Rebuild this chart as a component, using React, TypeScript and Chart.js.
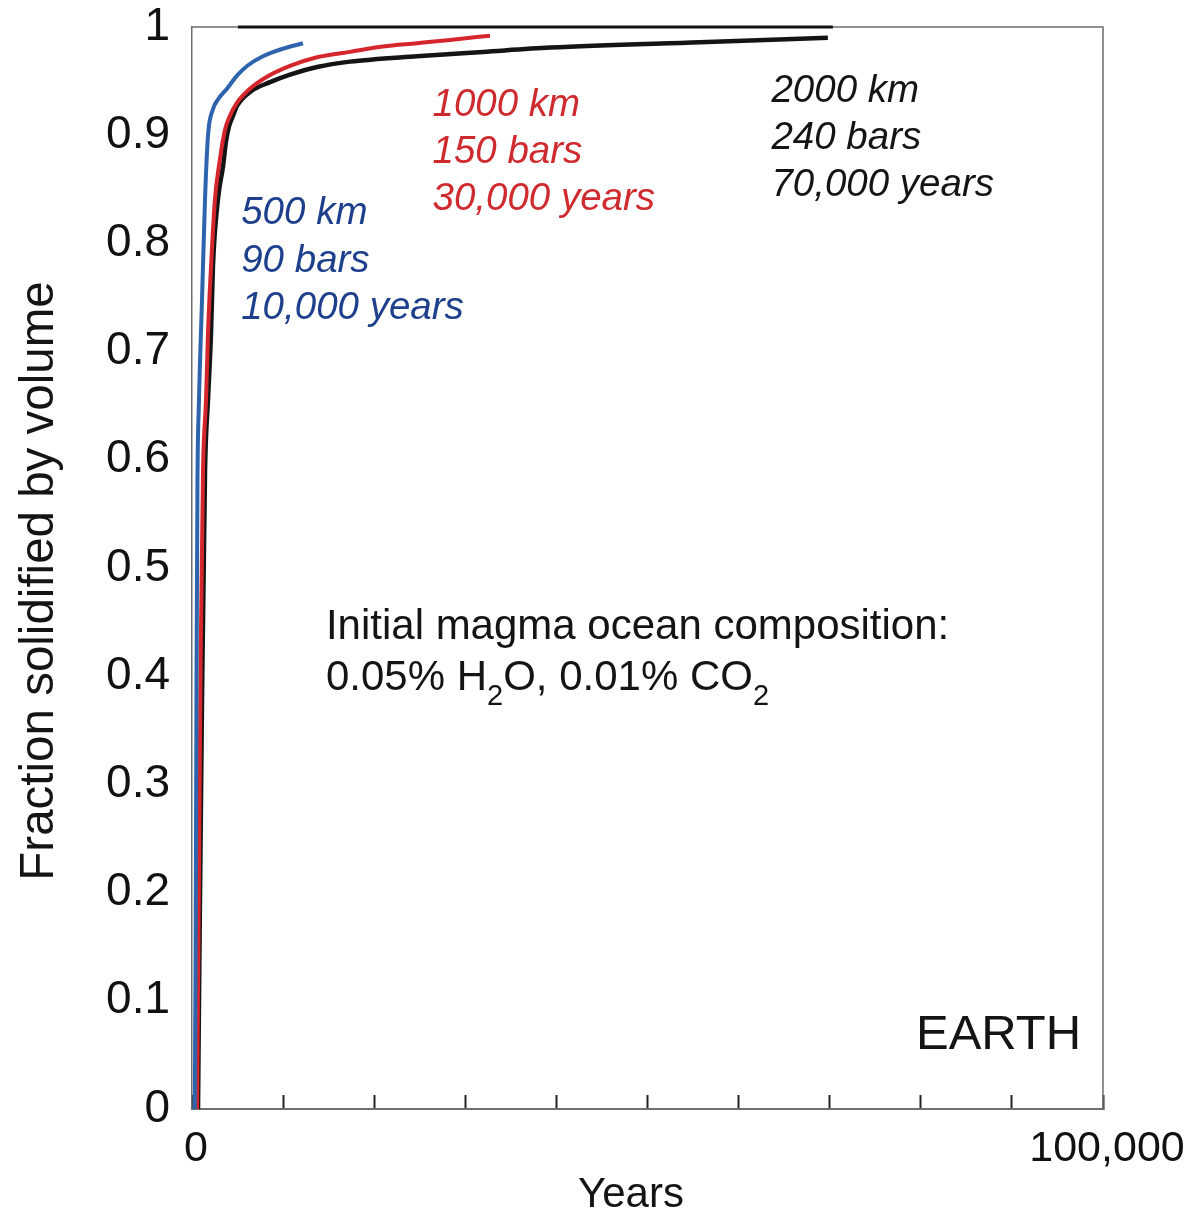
import React, { useEffect, useRef } from 'react';
import { Chart, registerables } from 'chart.js';

Chart.register(...registerables);

// ---- data (years, fraction solidified) ----
const blueYears = [300, 400, 500, 600, 750, 1100, 1430, 1760, 2300, 2850, 3840, 4940, 6040, 7790, 9990, 12180];
const blueFraction = [0, 0.15, 0.4, 0.58, 0.65, 0.748, 0.841, 0.9, 0.924, 0.933, 0.943, 0.955, 0.964, 0.973, 0.98, 0.985];

const redYears = [550, 750, 950, 1210, 1540, 1760, 2090, 2520, 3070, 3620, 4170, 4940, 6370, 8230, 10760, 13720, 17340, 20970, 24700, 28320, 32710];
const redFraction = [0, 0.2, 0.42, 0.59, 0.656, 0.718, 0.779, 0.841, 0.878, 0.905, 0.918, 0.93, 0.943, 0.954, 0.964, 0.972, 0.977, 0.982, 0.985, 0.988, 0.992];

const blackYears = [660, 820, 1100, 1430, 1760, 2090, 2300, 2850, 3400, 3730, 4060, 4500, 4940, 6370, 8560, 10760, 13720, 17340, 24700, 31940, 39300, 55760, 69800];
const blackFraction = [0, 0.147, 0.378, 0.59, 0.656, 0.718, 0.779, 0.841, 0.871, 0.894, 0.908, 0.918, 0.927, 0.94, 0.949, 0.956, 0.963, 0.968, 0.973, 0.977, 0.981, 0.986, 0.99];

const topLineYears = [5050, 70350];
const topLineFraction = [1, 1];

const xTickLabels = ['0', '', '', '', '', '', '', '', '', '', '100,000'];
const yTickLabels = ['0', '0.1', '0.2', '0.3', '0.4', '0.5', '0.6', '0.7', '0.8', '0.9', '1'];

const blueLabel = ['500 km', '90 bars', '10,000 years'];
const redLabel = ['1000 km', '150 bars', '30,000 years'];
const blackLabel = ['2000 km', '240 bars', '70,000 years'];

// ---- styles / placements ----
const FONT = '"Liberation Sans", Arial, Helvetica, sans-serif';
const BLUE_LINE = '#2d64ad';
const BLUE_TEXT = '#1d3f8c';
const RED_LINE = '#d5262d';
const RED_TEXT = '#cf2a2e';
const BLACK = '#141414';

const labelBlocks = [
  { lines: blueLabel, x: 5400, y: [0.818, 0.774, 0.73], color: BLUE_TEXT },
  { lines: redLabel, x: 26400, y: [0.918, 0.874, 0.831], color: RED_TEXT },
  { lines: blackLabel, x: 63600, y: [0.931, 0.887, 0.844], color: BLACK },
];

const pts = (xs: number[], ys: number[]) => xs.map((x, i) => ({ x, y: ys[i] }));

const annotationPlugin = {
  id: 'annotations',
  beforeDatasetsDraw(chart: any) {
    const { ctx, chartArea } = chart;
    ctx.save();
    ctx.strokeStyle = '#6e6e6e';
    ctx.lineWidth = 1.5;
    ctx.beginPath();
    ctx.moveTo(chartArea.left, chartArea.top);
    ctx.lineTo(chartArea.right, chartArea.top);
    ctx.lineTo(chartArea.right, chartArea.bottom);
    ctx.stroke();
    ctx.restore();
  },
  afterDatasetsDraw(chart: any) {
    const { ctx } = chart;
    const xs = chart.scales.x;
    const ys = chart.scales.y;
    ctx.save();
    ctx.textAlign = 'left';
    ctx.textBaseline = 'alphabetic';
    ctx.font = `italic 38.5px ${FONT}`;
    for (const b of labelBlocks) {
      ctx.fillStyle = b.color;
      b.lines.forEach((t, i) => {
        ctx.fillText(t, xs.getPixelForValue(b.x), ys.getPixelForValue(b.y[i]));
      });
    }

    // composition text
    ctx.fillStyle = BLACK;
    ctx.font = `42px ${FONT}`;
    const cx = xs.getPixelForValue(14700);
    ctx.fillText('Initial magma ocean composition:', cx, ys.getPixelForValue(0.4345));
    const y2 = ys.getPixelForValue(0.3875);
    const parts: [string, boolean][] = [
      ['0.05% H', false], ['2', true], ['O, 0.01% CO', false], ['2', true],
    ];
    let px = cx;
    for (const [t, sub] of parts) {
      ctx.font = sub ? `29px ${FONT}` : `42px ${FONT}`;
      ctx.fillText(t, px, sub ? y2 + 15 : y2);
      px += ctx.measureText(t).width;
    }

    // EARTH
    ctx.font = `49px ${FONT}`;
    ctx.textAlign = 'right';
    ctx.fillText('EARTH', xs.getPixelForValue(97600), ys.getPixelForValue(0.055));

    // axis titles
    ctx.textAlign = 'center';
    ctx.font = `42px ${FONT}`;
    ctx.fillText('Years', 631, 1207);
    ctx.save();
    ctx.translate(53, 581);
    ctx.rotate(-Math.PI / 2);
    ctx.font = `47.5px ${FONT}`;
    ctx.fillText('Fraction solidified by volume', 0, 0);
    ctx.restore();
    ctx.restore();
  },
};

export default function App() {
  const canvasRef = useRef<HTMLCanvasElement | null>(null);

  useEffect(() => {
    const canvas = canvasRef.current;
    if (!canvas) return;
    Chart.defaults.font.family = FONT;
    const chart = new Chart(canvas, {
      type: 'line',
      data: {
        datasets: [
          { label: '500 km', data: pts(blueYears, blueFraction), borderColor: BLUE_LINE, borderWidth: 4, pointRadius: 0, cubicInterpolationMode: 'monotone', fill: false },
          { label: '1000 km', data: pts(redYears, redFraction), borderColor: RED_LINE, borderWidth: 4, pointRadius: 0, cubicInterpolationMode: 'monotone', fill: false },
          { label: '2000 km', data: pts(blackYears, blackFraction), borderColor: BLACK, borderWidth: 4.5, pointRadius: 0, cubicInterpolationMode: 'monotone', fill: false },
          { label: 'top', data: pts(topLineYears, topLineFraction), borderColor: BLACK, borderWidth: 3, pointRadius: 0, fill: false, clip: false },
        ] as any,
      },
      options: {
        responsive: false,
        animation: false,
        events: [],
        layout: { padding: { top: 27, right: 86, bottom: 0, left: 0 } },
        plugins: { legend: { display: false }, tooltip: { enabled: false } },
        scales: {
          x: {
            type: 'linear',
            min: 0,
            max: 100000,
            ticks: {
              stepSize: 10000,
              autoSkip: false,
              maxRotation: 0,
              color: '#111',
              padding: 33,
              labelOffset: 4,
              font: { size: 43, lineHeight: 1 },
              callback: (_v: any, i: number) => xTickLabels[i],
            },
            grid: { display: true, drawOnChartArea: false, drawTicks: true, tickLength: -14, tickColor: '#222', tickWidth: 2 },
            border: { display: true, color: '#707070', width: 2 },
            afterFit: (s: any) => { s.height = 104; s.paddingLeft = 0; s.paddingRight = 0; s.paddingTop = 0; s.paddingBottom = 0; },
          },
          y: {
            type: 'linear',
            min: 0,
            max: 1,
            ticks: {
              stepSize: 0.1,
              color: '#111',
              padding: 22,
              font: { size: 46, lineHeight: 1 },
              callback: (_v: any, i: number) => yTickLabels[i],
            },
            grid: { display: false, drawTicks: false },
            border: { display: true, color: '#6e6e6e', width: 1.5 },
            afterFit: (s: any) => { s.width = 192; s.paddingTop = 0; s.paddingBottom = 0; s.paddingLeft = 0; s.paddingRight = 0; },
          },
        },
      } as any,
      plugins: [annotationPlugin],
    });
    return () => chart.destroy();
  }, []);

  return (
    <div style={{ position: 'absolute', left: 0, top: 0, width: 1189, height: 1213, background: '#fff' }}>
      <canvas ref={canvasRef} width={1189} height={1213} style={{ display: 'block', width: 1189, height: 1213 }} />
    </div>
  );
}
